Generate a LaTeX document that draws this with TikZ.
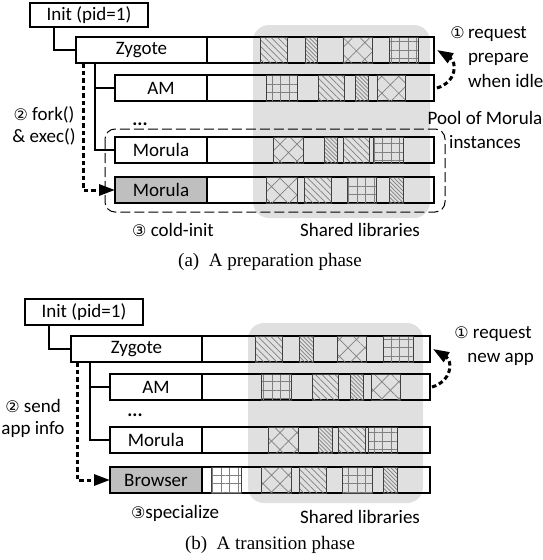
\documentclass[tikz,border=0pt]{standalone}
\usepackage{fontspec}
\setmainfont{Liberation Serif}
\newfontfamily\labfont{Carlito}
\newfontfamily\numfont{DejaVu Sans}
\usetikzlibrary{arrows.meta,positioning,patterns.meta}

\newcommand{\cnum}[1]{{\numfont\fontsize{16}{18}\selectfont #1}}

\begin{document}
\begin{tikzpicture}[x=1pt,y=-1pt,
  every node/.style={font=\labfont\fontsize{19}{22}\selectfont, inner sep=0pt, outer sep=0pt},
  initbox/.style={draw, line width=2pt, minimum width=118pt, minimum height=24pt},
  namebox/.style={draw, line width=2pt, minimum width=92pt, minimum height=26pt, anchor=north west},
  libbox/.style={draw, line width=2pt, minimum width=227pt, minimum height=26pt},
  shade/.style={fill=black!12, rounded corners=16pt},
  pool/.style={draw, line width=1pt, dash pattern=on 10pt off 4pt, rounded corners=10pt},
  tree/.style={line width=1.4pt},
  fork/.style={line width=3pt, dash pattern=on 4.5pt off 3pt, -{Triangle[length=16pt,width=11pt]}},
  lib/.style={draw=black!75, line width=0.9pt, pattern color=black!50},
  libnw/.style={lib, pattern={Lines[angle=-45,distance=4.6pt,line width=0.7pt]}},
  libdense/.style={lib, pattern={Lines[angle=-45,distance=2.8pt,line width=0.7pt]}},
  libcross/.style={lib, pattern={Hatch[angle=45,distance=12pt,line width=0.7pt]}},
  libgrid/.style={lib, pattern={Hatch[angle=0,distance=8.5pt,line width=0.7pt]}},
]
\useasboundingbox (0,0) rectangle (543,560);

% (a) preparation phase
\fill[shade] (253,25) rectangle (430,218);

\node[initbox] (inita) at (89,15) {Init (pid=1)};
\node[namebox, minimum width=131pt] (zyga) at (76,37) {Zygote};
\node[libbox, right=0pt of zyga] (zygalib) {};
\node[namebox] (ama) at (115,75) {AM};
\node[libbox, right=0pt of ama] (amalib) {};
\node[namebox] (mora) at (115,137) {Morula};
\node[libbox, right=0pt of mora] (moralib) {};
\node[namebox, fill=black!25] (newa) at (115,177) {Morula};
\node[libbox, right=0pt of newa] (newalib) {};

\foreach \p/\a/\b in {libnw/260/287, libdense/305/317, libcross/343/372, libgrid/389/418}
  \draw[\p] (\a,37) rectangle (\b,63);
\foreach \p/\a/\b in {libgrid/266/297, libnw/318/344, libdense/355/368, libcross/377/405}
  \draw[\p] (\a,75) rectangle (\b,101);
\foreach \p/\a/\b in {libcross/273/303, libdense/324/337, libnw/343/369, libgrid/373/403}
  \draw[\p] (\a,137) rectangle (\b,163);
\foreach \p/\a/\b in {libcross/266/297, libnw/304/331, libgrid/347/376, libdense/389/403}
  \draw[\p] (\a,177) rectangle (\b,203);

\draw[pool] (105,129) rectangle (445,212);
\node (dotsa) at (140,124) {\textbf{...}};

\draw[tree] ([xshift=24pt]inita.south west) |- (zyga.west);
\draw[tree] ([xshift=19pt]zyga.south west) |- (ama.west);
\draw[tree] ([xshift=19pt]zyga.south west) |- (mora.west);
\draw[fork] ([xshift=7pt]zyga.south west) |- (newa.west);
\draw[fork] ([xshift=3pt]amalib.east) .. controls +(20,-6) and +(20,12) .. ([xshift=3pt]zygalib.east);

\node[anchor=west, align=left, font=\labfont\fontsize{19}{24.5}\selectfont] (reqa) at (468,57) {\llap{\cnum{①}\,}request\\prepare\\when idle};
\node[align=center, font=\labfont\fontsize{19}{24}\selectfont] (poola) at (485,130) {Pool of Morula\\instances};
\node[align=center] (forka) at (44,126) {\cnum{②} fork()\\\& exec()};
\node (colda) at (173,230) {\cnum{③} cold-init};
\node (shla) at (360,230) {Shared libraries};
\node[font=\rmfamily\fontsize{19}{22}\selectfont] (capa) at (270,262) {(a)\ \ A preparation phase};

% (b) transition phase
\fill[shade] (248,323) rectangle (423,503);

\node[initbox, minimum height=26pt] (initb) at (84,312) {Init (pid=1)};
\node[namebox, minimum width=131pt] (zygb) at (71,336) {Zygote};
\node[libbox, minimum width=228pt, right=0pt of zygb] (zygblib) {};
\node[namebox] (amb) at (110,374) {AM};
\node[libbox, minimum width=228pt, right=0pt of amb] (amblib) {};
\node[namebox] (morb) at (110,427) {Morula};
\node[libbox, minimum width=228pt, right=0pt of morb] (morblib) {};
\node[namebox, fill=black!25] (brwb) at (110,467) {Browser};
\node[libbox, minimum width=228pt, right=0pt of brwb] (brwblib) {};

\foreach \p/\a/\b in {libnw/255/282, libdense/299/313, libcross/337/366, libgrid/383/413}
  \draw[\p] (\a,336) rectangle (\b,362);
\foreach \p/\a/\b in {libgrid/261/291, libnw/312/338, libdense/350/363, libcross/371/400}
  \draw[\p] (\a,374) rectangle (\b,400);
\foreach \p/\a/\b in {libcross/268/298, libdense/318/332, libnw/338/365, libgrid/368/397}
  \draw[\p] (\a,427) rectangle (\b,453);
\foreach \p/\a/\b in {libgrid/211/241, libcross/261/291, libnw/299/326, libgrid/342/372, libdense/383/397}
  \draw[\p] (\a,467) rectangle (\b,493);

\node (dotsb) at (135,415) {\textbf{...}};

\draw[tree] ([xshift=24pt]initb.south west) |- (zygb.west);
\draw[tree] ([xshift=19pt]zygb.south west) |- (amb.west);
\draw[tree] ([xshift=19pt]zygb.south west) |- (morb.west);
\draw[fork] ([xshift=6pt]zygb.south west) |- (brwb.west);
\draw[fork] ([xshift=2pt]amblib.east) .. controls +(20,-6) and +(20,12) .. ([xshift=3pt]zygblib.east);

\node[align=center, font=\labfont\fontsize{19}{24.5}\selectfont] (reqb) at (493,346) {\cnum{①} request\\\hspace{0.8em}new app};
\node[align=center] (sendb) at (33,418) {\cnum{②} send\\app info};
\node (specb) at (175,513) {\cnum{③}specialize};
\node (shlb) at (360,517) {Shared libraries};
\node[font=\rmfamily\fontsize{19}{22}\selectfont] (capb) at (270,545) {(b)\ \ A transition phase};
\end{tikzpicture}
\end{document}
